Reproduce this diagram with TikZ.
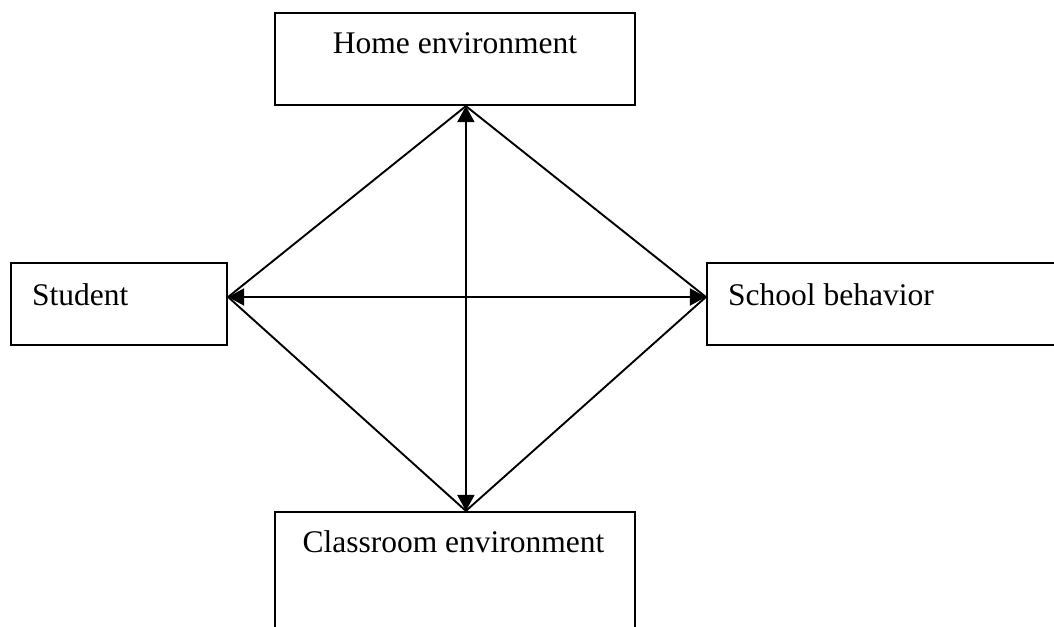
\documentclass[tikz,border=0pt]{standalone}
\usepackage{fontspec}
\setmainfont{Liberation Serif}
\usetikzlibrary{arrows.meta}
\begin{document}
\begin{tikzpicture}[x=1pt, y=-1pt,
    box/.style={draw, line width=2.2pt, inner sep=0pt},
    txt/.style={font=\fontsize{31.5}{37}\selectfont, inner sep=0pt},
    link/.style={line width=1.9pt},
    both/.style={link, {Triangle[length=16pt,width=17pt]}-{Triangle[length=16pt,width=17pt]}}]
  % Page frame, the right and lower boxes run off it
  \clip (0,0) rectangle (1054,626);

  % Boxes
  \node[box, minimum width=360pt, minimum height=92pt] (home) at (455,59) {};
  \node[box, minimum width=216pt, minimum height=82pt] (student) at (119,304) {};
  \node[box, minimum width=393pt, minimum height=82pt] (school) at (903.5,304) {};
  \node[box, minimum width=360pt, minimum height=148pt] (classroom) at (455,586) {};

  % Texts in the boxes
  \node[txt, anchor=base] (hometext) at (455,53) {Home environment};
  \node[txt, anchor=base west] (studenttext) at (32,305) {Student};
  \node[txt, anchor=base west] (schooltext) at (728,305) {School behavior};
  \node[txt, anchor=base] (classroomtext) at (453.5,552) {Classroom environment};

  % Corners of the diamond
  \coordinate (top) at ([xshift=192pt]home.south west);
  \coordinate (bottom) at ([xshift=192pt]classroom.north west);
  \coordinate (left) at ([yshift=7pt]student.east);
  \coordinate (right) at ([yshift=7pt]school.west);

  % Diamond
  \draw[link] (top) -- (left) -- (bottom) -- (right) -- cycle;

  % Two way arrows
  \draw[both] (top) -- (bottom);
  \draw[both] (left) -- (right);
\end{tikzpicture}
\end{document}
